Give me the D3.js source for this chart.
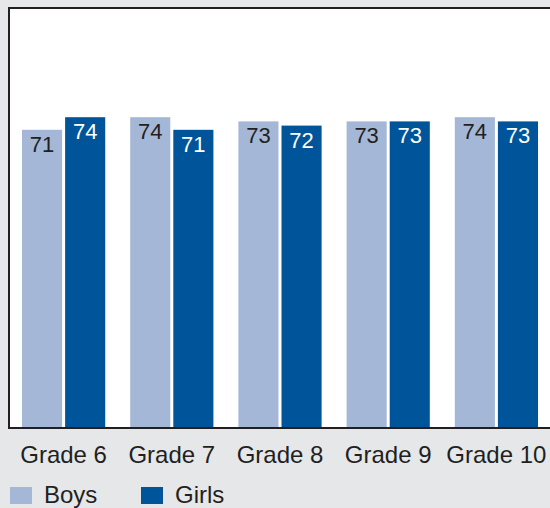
<!DOCTYPE html>
<html>
<head>
<meta charset="utf-8">
<script src="https://cdn.jsdelivr.net/npm/d3@7"></script>
<style>
  html, body { margin: 0; padding: 0; background: #e6e7e8; }
  svg { display: block; }
</style>
</head>
<body>
<svg id="chart" width="550" height="508"></svg>
<script>
// chart data
const grades = ['Grade 6', 'Grade 7', 'Grade 8', 'Grade 9', 'Grade 10'];
const boys = [71, 74, 73, 73, 74];
const girls = [74, 71, 72, 73, 73];
const seriesNames = ['Boys', 'Girls'];
const seriesColors = ['#a4b7d7', '#00559a'];
const labelColors = ['#231f20', '#ffffff'];

const svg = d3.select('#chart');
const font = 'Liberation Sans, Arial, sans-serif';

const plot = { left: 9, top: 8, right: 550, bottom: 428 };

// white plot area
svg.append('rect')
  .attr('x', plot.left)
  .attr('y', plot.top)
  .attr('width', plot.right - plot.left)
  .attr('height', plot.bottom - plot.top)
  .attr('fill', '#ffffff');

const x0 = d3.scaleBand()
  .domain(grades)
  .range([22, 538])
  .paddingInner(25 / 108.25)
  .paddingOuter(0);

const x1 = d3.scaleBand()
  .domain(seriesNames)
  .range([0, x0.bandwidth()])
  .paddingInner(3 / 43);

const y = d3.scaleLinear()
  .domain([0, 100])
  .range([plot.bottom, plot.top]);

const rows = grades.map((g, i) => ({ grade: g, values: [boys[i], girls[i]] }));
const cells = d => d.values.map((v, j) => ({ key: seriesNames[j], value: v, j }));

const groups = svg.append('g')
  .selectAll('g')
  .data(rows)
  .enter()
  .append('g')
  .attr('transform', d => `translate(${x0(d.grade)},0)`);

groups.selectAll('rect')
  .data(cells)
  .enter()
  .append('rect')
  .attr('x', d => x1(d.key))
  .attr('y', d => y(d.value))
  .attr('width', x1.bandwidth())
  .attr('height', d => y(0) - y(d.value))
  .attr('fill', d => seriesColors[d.j]);

groups.selectAll('text')
  .data(cells)
  .enter()
  .append('text')
  .attr('x', d => x1(d.key) + x1.bandwidth() / 2)
  .attr('y', d => y(d.value) + 22)
  .attr('text-anchor', 'middle')
  .attr('font-family', font)
  .attr('font-size', '22px')
  .attr('fill', d => labelColors[d.j])
  .text(d => d.value);

// plot frame: left, top, bottom
svg.append('path')
  .attr('d', `M${plot.right},${plot.top} H${plot.left} V${plot.bottom} H${plot.right}`)
  .attr('fill', 'none')
  .attr('stroke', '#231f20')
  .attr('stroke-width', 2);

// x axis labels
const xAxis = d3.axisBottom(x0).tickSize(0).tickPadding(0);
const ax = svg.append('g')
  .attr('transform', `translate(0,${plot.bottom})`)
  .call(xAxis);
ax.select('.domain').remove();
ax.selectAll('text')
  .attr('dy', null)
  .attr('y', 35)
  .attr('font-family', font)
  .attr('font-size', '24px')
  .attr('fill', '#231f20');

// legend
const legendX = [10, 141];
const legend = svg.append('g')
  .selectAll('g')
  .data(seriesNames)
  .enter()
  .append('g')
  .attr('transform', (d, i) => `translate(${legendX[i]},487)`);

legend.append('rect')
  .attr('width', 22)
  .attr('height', 17)
  .attr('fill', (d, i) => seriesColors[i]);

legend.append('text')
  .attr('x', 34)
  .attr('y', 16)
  .attr('font-family', font)
  .attr('font-size', '24px')
  .attr('fill', '#231f20')
  .text(d => d);
</script>
</body>
</html>
